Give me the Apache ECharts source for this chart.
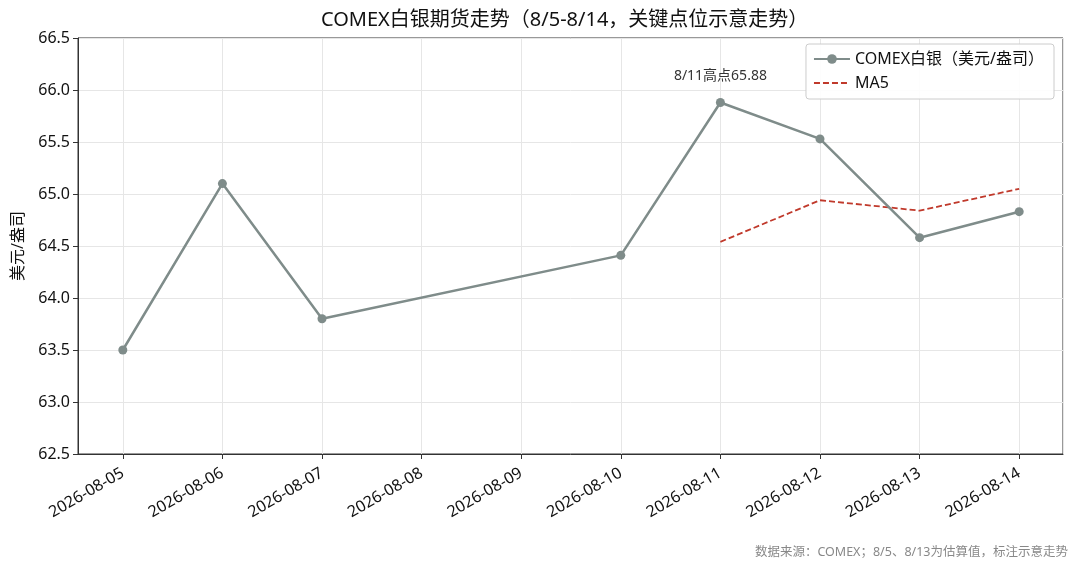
<!DOCTYPE html>
<html><head><meta charset="utf-8">
<script src="https://cdn.jsdelivr.net/npm/echarts@6/dist/echarts.min.js"></script>
<style>html,body{margin:0;padding:0;background:#fff}#c{width:1080px;height:574px}</style>
</head><body><div id="c"></div>
<script>
const dates = ['2026-08-05','2026-08-06','2026-08-07','2026-08-10','2026-08-11','2026-08-12','2026-08-13','2026-08-14'];
const silver = [63.50, 65.10, 63.80, 64.41, 65.88, 65.53, 64.58, 64.83];
const ma5Dates = ['2026-08-11','2026-08-12','2026-08-13','2026-08-14'];
const ma5 = [64.54, 64.94, 64.84, 65.05];
const yTicks = [62.5, 63.0, 63.5, 64.0, 64.5, 65.0, 65.5, 66.0, 66.5];
const peakLabel = '8/11高点65.88';
const peakIndex = 4;

const DAY = 86400000;
function ts(s){ const p=s.split('-'); return new Date(+p[0], +p[1]-1, +p[2]).getTime(); }
function fmt(v){ const d=new Date(v); const m=d.getMonth()+1, dd=d.getDate(); return d.getFullYear()+'-'+(m<10?'0':'')+m+'-'+(dd<10?'0':'')+dd; }
const xMin = ts(dates[0]) - 0.45*DAY;
const xMax = ts(dates[dates.length-1]) + 0.44*DAY;
const font = '"Noto Sans", "Noto Sans CJK SC", sans-serif';

const silverData = silver.map((v,i)=>{
  const item = {value:[ts(dates[i]), v]};
  if(i===peakIndex){
    item.label = {show:true, position:'top', distance:15, formatter: peakLabel, color:'#333', fontSize:14, fontFamily:font};
  }
  return item;
});
const maData = ma5.map((v,i)=>[ts(ma5Dates[i]), v]);

const chart = echarts.init(document.getElementById('c'), null, {renderer:'canvas'});
chart.setOption({
  animation:false,
  textStyle:{fontFamily:font},
  title:{text:'COMEX白银期货走势（8/5-8/14，关键点位示意走势）', left:316, top:5,
    textStyle:{fontSize:20, fontWeight:'normal', color:'#111', fontFamily:font}},
  grid:{left:78, right:17, top:38, bottom:120, outerBoundsMode:'none', containLabel:false, show:true, borderColor:'#333', borderWidth:1, backgroundColor:'transparent'},
  legend:{
    right:26, top:44, orient:'vertical', itemGap:8,
    backgroundColor:'rgba(255,255,255,0.9)', borderColor:'#ccc', borderWidth:1, borderRadius:3,
    padding:[7,10,8,7], itemWidth:36, itemHeight:12,
    textStyle:{fontSize:16, color:'#111', fontFamily:font},
    data:[{name:'COMEX白银（美元/盎司）'},{name:'MA5', itemStyle:{opacity:0}}]
  },
  xAxis:{
    type:'time', min:xMin, max:xMax, minInterval:DAY, maxInterval:DAY,
    axisLine:{show:true, lineStyle:{color:'#333', width:1}},
    axisTick:{show:true, length:5, lineStyle:{color:'#333'}},
    splitLine:{show:true, lineStyle:{color:'#e6e6e6', width:1}},
    axisLabel:{rotate:30, formatter:(v)=>fmt(v), color:'#111', fontSize:16, margin:18, fontFamily:font, hideOverlap:false}
  },
  yAxis:{
    type:'value', min:yTicks[0], max:yTicks[yTicks.length-1], interval:0.5,
    name:'美元/盎司', nameLocation:'middle', nameGap:52, nameRotate:90,
    nameTextStyle:{fontSize:16, color:'#111', fontFamily:font},
    axisLine:{show:true, lineStyle:{color:'#333', width:1}},
    axisTick:{show:true, length:5, lineStyle:{color:'#333'}},
    splitLine:{show:true, lineStyle:{color:'#e6e6e6', width:1}},
    axisLabel:{formatter:(v)=>v.toFixed(1), color:'#111', fontSize:16, margin:8, fontFamily:font}
  },
  series:[
    {name:'COMEX白银（美元/盎司）', type:'line', data:silverData, symbol:'circle', symbolSize:9,
      lineStyle:{color:'#7f8c8a', width:2.5}, itemStyle:{color:'#7f8c8a'}, z:3},
    {name:'MA5', type:'line', data:maData, symbol:'none',
      lineStyle:{color:'#c0392b', width:1.8, type:[6,3]}, itemStyle:{color:'#c0392b'}, z:2}
  ],
  graphic:[{type:'text', right:12, top:546, style:{text:'数据来源：COMEX；8/5、8/13为估算值，标注示意走势', fill:'#888', fontSize:12.5, fontFamily:font}}]
});
</script></body></html>
